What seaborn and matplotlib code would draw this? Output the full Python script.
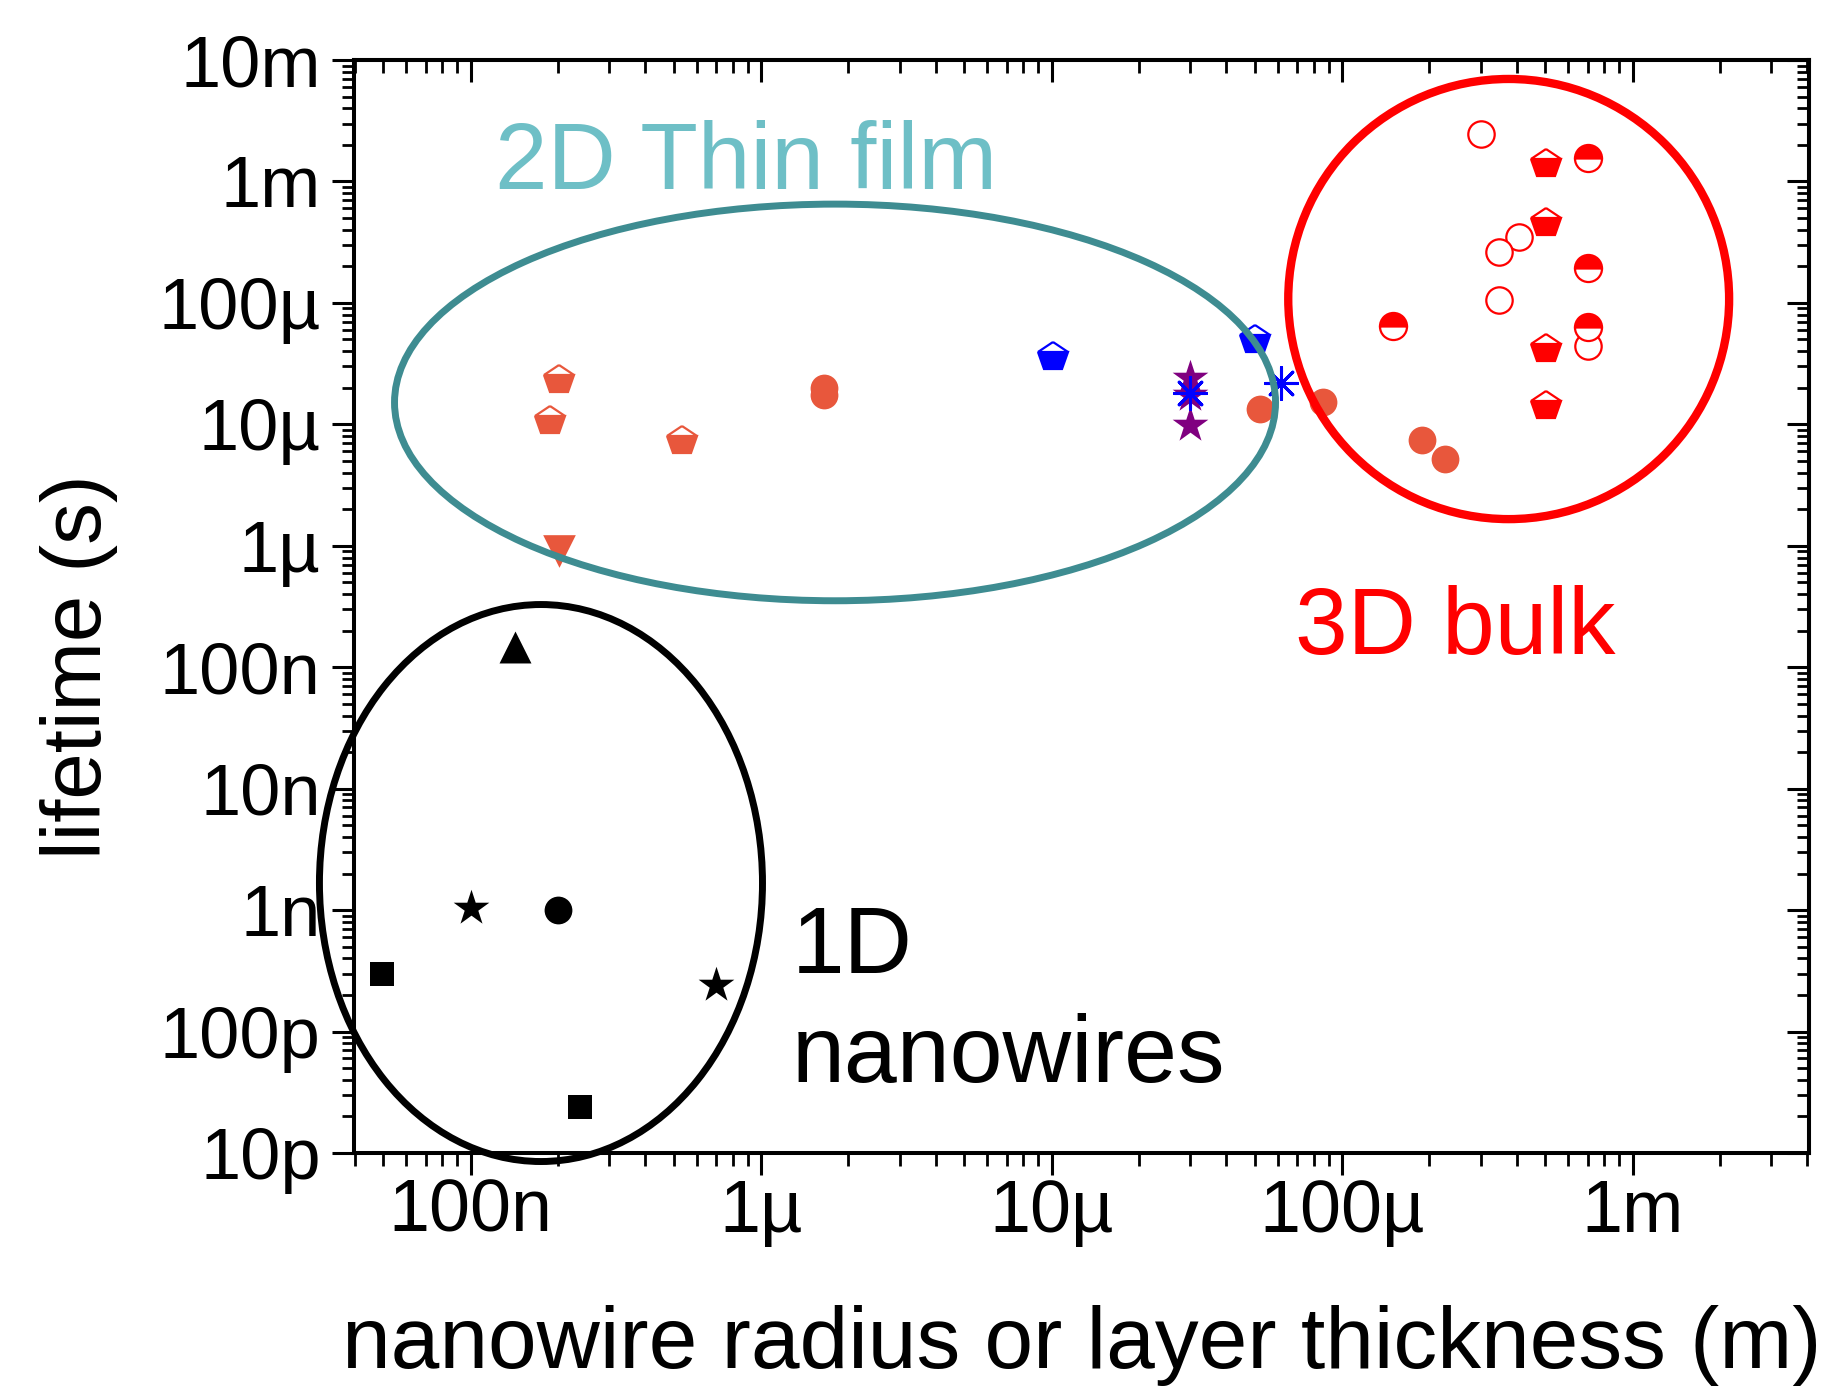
import matplotlib
matplotlib.use("Agg")
import matplotlib.pyplot as plt
import seaborn as sns
from matplotlib.patches import Ellipse
from matplotlib.ticker import LogLocator, NullFormatter, FixedLocator

# ---------------- data ----------------
# 2D thin film (orange-red)
film_pent_x = [2.02e-7, 1.88e-7, 5.33e-7]
film_pent_y = [2.32e-5, 1.07e-5, 7.33e-6]
film_tri_x = [2.02e-7]
film_tri_y = [9.1e-7]
orange_circ_x = [1.65e-6, 1.65e-6, 5.21e-5, 8.59e-5, 1.88e-4, 2.27e-4]
orange_circ_y = [1.99e-5, 1.74e-5, 1.35e-5, 1.53e-5, 7.43e-6, 5.15e-6]
# blue / purple
blue_pent_x = [1.01e-5, 5.0e-5]
blue_pent_y = [3.6e-5, 4.94e-5]
purple_star_x = [3.0e-5, 3.0e-5, 3.0e-5]
purple_star_y = [2.39e-5, 1.74e-5, 9.87e-6]
blue_ast_x = [3.0e-5, 6.15e-5]
blue_ast_y = [1.8e-5, 2.17e-5]
# 3D bulk (red)
bulk_open_x = [3.01e-4, 4.05e-4, 3.46e-4, 3.48e-4, 7.03e-4]
bulk_open_y = [2.44e-3, 3.51e-4, 2.63e-4, 1.06e-4, 4.42e-5]
bulk_half_circ_x = [7.03e-4, 7.03e-4, 1.50e-4, 7.03e-4]
bulk_half_circ_y = [1.55e-3, 1.95e-4, 6.45e-5, 6.37e-5]
bulk_pent_x = [5.04e-4, 5.04e-4, 5.04e-4, 5.04e-4]
bulk_pent_y = [1.39e-3, 4.52e-4, 4.14e-5, 1.42e-5]
# 1D nanowires (black)
nw_tri_x = [1.42e-7]
nw_tri_y = [1.46e-7]
nw_star_x = [1.0e-7, 7.0e-7]
nw_star_y = [1.04e-9, 2.42e-10]
nw_circ_x = [2.0e-7]
nw_circ_y = [1.0e-9]
nw_sq_x = [4.96e-8, 2.38e-7]
nw_sq_y = [3.0e-10, 2.39e-11]

x_tick_vals = [1e-7, 1e-6, 1e-5, 1e-4, 1e-3]
x_tick_labels = ["100n", "1µ", "10µ", "100µ", "1m"]
y_tick_vals = [1e-11, 1e-10, 1e-9, 1e-8, 1e-7, 1e-6, 1e-5, 1e-4, 1e-3, 1e-2]
y_tick_labels = ["10p", "100p", "1n", "10n", "100n", "1µ", "10µ", "100µ", "1m", "10m"]

# ---------------- style ----------------
sns.set_style("ticks")
plt.rcParams["font.family"] = ["Liberation Sans", "DejaVu Sans"]
for k in ("text.color", "axes.labelcolor", "xtick.color", "ytick.color", "axes.edgecolor"):
    plt.rcParams[k] = "black"

ORANGE = "#E8573C"
RED = "#FF0000"
BLUE = "#0000FF"
PURPLE = "#800080"
TEAL = "#3E8C91"
TEAL_TXT = "#6EBFC6"

fig = plt.figure(figsize=(18.21, 13.94), dpi=100)
ax = fig.add_axes([354 / 1821, 1 - 1153 / 1394, 1455 / 1821, 1093 / 1394])
ax.set_xscale("log")
ax.set_yscale("log")


def scat(x, y, marker, size, color, edge=None, lw=0.0, z=3):
    sns.scatterplot(x=x, y=y, ax=ax, marker=marker, s=size ** 2, color=color,
                    edgecolor=edge if edge is not None else color, linewidth=lw,
                    zorder=z, legend=False)


def half(x, y, marker, size, color, fill):
    sns.lineplot(x=x, y=y, ax=ax, estimator=None, sort=False, marker=marker,
                 markersize=size, fillstyle=fill, markerfacecolor=color,
                 markerfacecoloralt="white", markeredgecolor=color,
                 markeredgewidth=1.6, linestyle="", color=color, zorder=3,
                 legend=False)


# thin film
half(film_pent_x, film_pent_y, "p", 22, ORANGE, "bottom")
scat(film_tri_x, film_tri_y, "v", 23.5, ORANGE)
scat(orange_circ_x, orange_circ_y, "o", 20, ORANGE)
half(blue_pent_x, blue_pent_y, "p", 22, BLUE, "bottom")
scat(purple_star_x, purple_star_y, "*", 27, PURPLE)
scat(blue_ast_x, blue_ast_y, (8, 2, 0), 23, BLUE, lw=2.2, z=4)
# bulk
scat(bulk_open_x, bulk_open_y, "o", 19, "white", edge=RED, lw=1.6)
half(bulk_half_circ_x, bulk_half_circ_y, "o", 19.5, RED, "top")
half(bulk_pent_x, bulk_pent_y, "p", 22, RED, "bottom")
# nanowires
scat(nw_tri_x, nw_tri_y, "^", 23, "black")
scat(nw_star_x, nw_star_y, "*", 27, "black")
scat(nw_circ_x, nw_circ_y, "o", 20, "black")
scat(nw_sq_x, nw_sq_y, "s", 17.5, "black")

# ---------------- axes ----------------
ax.set_xlim(3.97e-8, 4.05e-3)
ax.set_ylim(1e-11, 1e-2)
ax.xaxis.set_major_locator(FixedLocator(x_tick_vals))
ax.set_xticklabels(x_tick_labels)
ax.yaxis.set_major_locator(FixedLocator(y_tick_vals))
ax.set_yticklabels(y_tick_labels)
for a in (ax.xaxis, ax.yaxis):
    a.set_minor_locator(LogLocator(base=10, subs=range(2, 10), numticks=40))
    a.set_minor_formatter(NullFormatter())

ax.tick_params(axis="x", which="major", direction="out", length=16, width=2.2,
               labelsize=53, pad=2, colors="black")
ax.tick_params(axis="y", which="major", direction="out", length=16, width=2.2,
               labelsize=52, pad=8, colors="black")
ax.tick_params(which="minor", direction="out", length=9, width=2.0, colors="black")
for s in ax.spines.values():
    s.set_linewidth(2.9)
    s.set_visible(True)
    s.set_color("black")

# inward ticks on top and right
top = ax.secondary_xaxis("top")
top.set_xscale("log")
top.xaxis.set_major_locator(FixedLocator(x_tick_vals))
top.xaxis.set_minor_locator(LogLocator(base=10, subs=range(2, 10), numticks=40))
top.xaxis.set_minor_formatter(NullFormatter())
top.tick_params(axis="x", which="major", direction="in", length=16, width=2.2,
                labeltop=False, colors="black")
top.tick_params(axis="x", which="minor", direction="in", length=9, width=2.0, colors="black")
top.spines["top"].set_linewidth(2.9)
top.spines["top"].set_color("black")
right = ax.secondary_yaxis("right")
right.set_yscale("log")
right.yaxis.set_major_locator(FixedLocator(y_tick_vals))
right.yaxis.set_minor_locator(LogLocator(base=10, subs=range(2, 10), numticks=40))
right.yaxis.set_minor_formatter(NullFormatter())
right.tick_params(axis="y", which="major", direction="in", length=16, width=2.2,
                  labelright=False, colors="black")
right.tick_params(axis="y", which="minor", direction="in", length=9, width=2.0, colors="black")
right.spines["right"].set_linewidth(2.9)
right.spines["right"].set_color("black")

ax.set_xlabel("nanowire radius or layer thickness (m)", fontsize=63, labelpad=42,
              color="black")
ax.set_ylabel("lifetime (s)", fontsize=60, color="black")
ax.yaxis.set_label_coords(-0.162, 0.4447)

# ---------------- group outlines and labels ----------------
for (cx, cy, w, h, col, lw) in [(0.3306, 0.6867, 0.6055, 0.3629, TEAL, 5.0),
                                (0.7936, 0.7813, 0.303, 0.4027, RED, 6.0),
                                (0.1285, 0.247, 0.3045, 0.5096, "black", 5.0)]:
    ax.add_patch(Ellipse((cx, cy), w, h, transform=ax.transAxes, fill=False,
                         edgecolor=col, linewidth=lw, clip_on=False, zorder=6))

ax.text(0.0969, 0.882, "2D Thin film", transform=ax.transAxes, fontsize=68,
        color=TEAL_TXT, ha="left", va="baseline", zorder=7)
ax.text(0.6467, 0.4565, "3D bulk", transform=ax.transAxes, fontsize=68,
        color=RED, ha="left", va="baseline", zorder=7)
ax.text(0.3010, 0.1647, "1D", transform=ax.transAxes, fontsize=68,
        color="black", ha="left", va="baseline", zorder=7)
ax.text(0.3010, 0.065, "nanowires", transform=ax.transAxes, fontsize=68.5,
        color="black", ha="left", va="baseline", zorder=7)

fig.savefig("out.png", dpi=100)
